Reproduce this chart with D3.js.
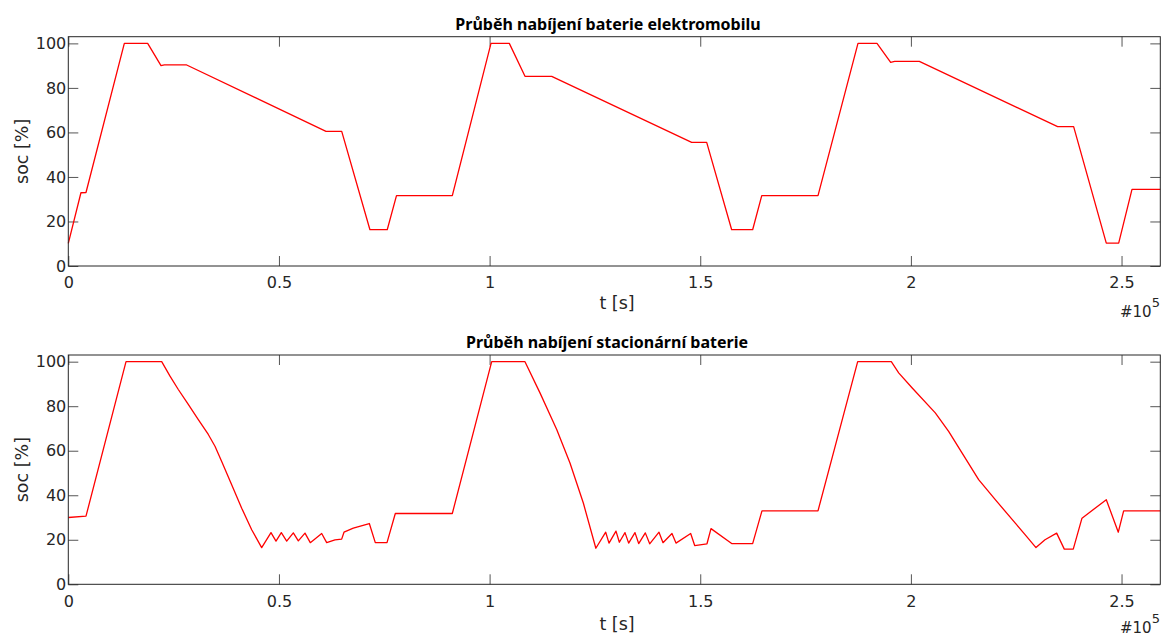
<!DOCTYPE html>
<html>
<head>
<meta charset="utf-8">
<script src="https://cdn.jsdelivr.net/npm/d3@7"></script>
<style>
  html, body { margin: 0; padding: 0; background: #fff; }
  svg { display: block; }
  .tick text { font-family: "DejaVu Sans", sans-serif; font-size: 16px; fill: #262626; }
</style>
</head>
<body>
<svg id="chart" width="1162" height="636"></svg>
<script>
// Electric-vehicle battery: time [s] and state of charge [%]
const evTime = [0, 3000, 4200, 13300, 18840, 22000, 22800, 28100, 61170, 64900, 71600, 75700,
  77900, 91150, 100330, 104680, 108400, 114740, 147960, 151530, 157460, 162440,
  164600, 177950, 187440, 191950, 195200, 196150, 202000, 234830, 238630, 246380, 249320,
  252480, 259200];
const evSoc = [10.2, 32.9, 33, 100, 100, 90, 90.3, 90.3, 60.5, 60.5, 16.3, 16.3,
  31.6, 31.6, 100, 100, 85.2, 85.2, 55.5, 55.5, 16.3, 16.3,
  31.6, 31.6, 100, 100, 91.5, 91.9, 91.9, 62.6, 62.6, 10.3, 10.3,
  34.4, 34.4];

// Stationary battery: time [s] and state of charge [%]
const stTime = [0, 4200, 13700, 22170, 24140, 26110, 28480, 30860, 33230, 34820, 36410,
  38780, 41160, 43530, 45900,
  48110, 49300, 50560, 51840, 53410, 54600, 56180, 57440, 60150, 61330, 63300, 64890,
  65440, 67650, 71450, 72870, 75650, 77620, 91150, 100500, 108400,
  111960, 115930, 119080, 122250, 125220,
  127560, 128340, 130000, 130800, 132140, 133010, 134510, 135390, 136960, 138000,
  140210, 141160, 143290, 144240, 147730, 148680, 151600, 152550, 157460, 162440,
  164650, 177950, 187370, 195350,
  197100, 200260, 205790, 208960, 212130, 216080, 220030, 224780, 227150, 229690,
  231830, 234600, 236410, 238540, 240610, 246380, 249230, 250500, 259200];
const stSoc = [30, 30.6, 100, 100, 93.5, 87.5, 80.8, 74, 67.3, 62, 55.2,
  44.7, 34.2, 24.5, 16.5,
  23.2, 19.4, 23.2, 19.4, 23.1, 19.5, 23, 18.7, 22.8, 18.7, 20, 20.3,
  23.4, 25.2, 27.3, 18.7, 18.7, 31.8, 31.8, 100, 100,
  86, 69.5, 54.5, 36.5, 16.2,
  23.4, 18.5, 23.9, 18.9, 23.2, 18.5, 23.2, 18.3, 23.1, 18.2,
  23.4, 18.7, 22.8, 18.5, 22.8, 17.4, 18.2, 25, 18.3, 18.3,
  33, 33, 100, 100,
  95, 88.3, 77, 68.7, 59, 47, 38, 27.5, 22.2, 16.5,
  20, 23, 15.8, 15.8, 29.7, 38, 23.4, 33, 33];

// Axis ticks and labels (time axis shown in units of 1e5 s)
const xTicks = [0, 50000, 100000, 150000, 200000, 250000];
const xTickLabels = ["0", "0.5", "1", "1.5", "2", "2.5"];
const yTicks = [0, 20, 40, 60, 80, 100];

const panels = [
  { title: "Průběh nabíjení baterie elektromobilu", t: evTime, s: evSoc, top: 36.7, titleX: 608 },
  { title: "Průběh nabíjení stacionární baterie", t: stTime, s: stSoc, top: 355, titleX: 607 }
];

const svg = d3.select("#chart");
const left = 68.3, right = 1160.3, plotH = 229.3;
const textColor = "#262626";

const x = d3.scaleLinear().domain([0, 259200]).range([left, right]);

panels.forEach((p, k) => {
  const y = d3.scaleLinear().domain([0, 103]).range([p.top + plotH, p.top]);
  const g = svg.append("g");

  // inward ticks on all four sides
  const axB = d3.axisBottom(x).tickValues(xTicks).tickSize(-10).tickPadding(11)
    .tickFormat((d, i) => xTickLabels[i]);
  const axT = d3.axisTop(x).tickValues(xTicks).tickSize(-10).tickFormat("");
  const axL = d3.axisLeft(y).tickValues(yTicks).tickSize(-10).tickPadding(2);
  const axR = d3.axisRight(y).tickValues(yTicks).tickSize(-10).tickFormat("");

  [[axB, `translate(0,${p.top + plotH})`], [axT, `translate(0,${p.top})`],
   [axL, `translate(${left},0)`], [axR, `translate(${right},0)`]].forEach(([ax, tr]) => {
    const a = g.append("g").attr("transform", tr).call(ax);
    a.select(".domain").remove();
    a.selectAll(".tick line").attr("stroke", "#555").attr("stroke-width", 1);
  });
  g.selectAll(".tick text").attr("fill", textColor);

  // data line
  const line = d3.line().x((d, i) => x(p.t[i])).y(d => y(d));
  g.append("path")
    .datum(p.s)
    .attr("d", line)
    .attr("fill", "none")
    .attr("stroke", "#ff0000")
    .attr("stroke-width", 1.3)
    .attr("stroke-linejoin", "round");

  // axes box
  g.append("rect")
    .attr("x", left).attr("y", p.top)
    .attr("width", right - left).attr("height", plotH)
    .attr("fill", "none").attr("stroke", "#262626").attr("stroke-width", 1);

  // title
  g.append("text")
    .attr("x", p.titleX).attr("y", p.top - 7)
    .attr("text-anchor", "middle")
    .style("font-family", "'Noto Sans', sans-serif")
    .style("font-weight", "bold")
    .style("font-size", "16px")
    .attr("fill", "#000")
    .text(p.title);

  // axis labels
  g.append("text")
    .attr("x", 617).attr("y", p.top + plotH + 43 + 3 * k)
    .attr("text-anchor", "middle")
    .style("font-family", "'DejaVu Sans', sans-serif")
    .style("font-size", "17.5px")
    .attr("fill", textColor)
    .text("t [s]");

  g.append("text")
    .attr("transform", `translate(28,${p.top + plotH / 2}) rotate(-90)`)
    .attr("text-anchor", "middle")
    .style("font-family", "'DejaVu Sans', sans-serif")
    .style("font-size", "17.5px")
    .attr("fill", textColor)
    .text("soc [%]");

  // exponent marker for the time axis
  const ex = g.append("text")
    .attr("x", 1120).attr("y", p.top + plotH + 51 - 2 * k)
    .attr("text-anchor", "start")
    .style("font-family", "'DejaVu Sans', sans-serif")
    .style("font-size", "15px")
    .attr("fill", textColor);
  ex.append("tspan").text("#10");
  ex.append("tspan").attr("dy", -10).style("font-size", "13px").text("5");
});
</script>
</body>
</html>
